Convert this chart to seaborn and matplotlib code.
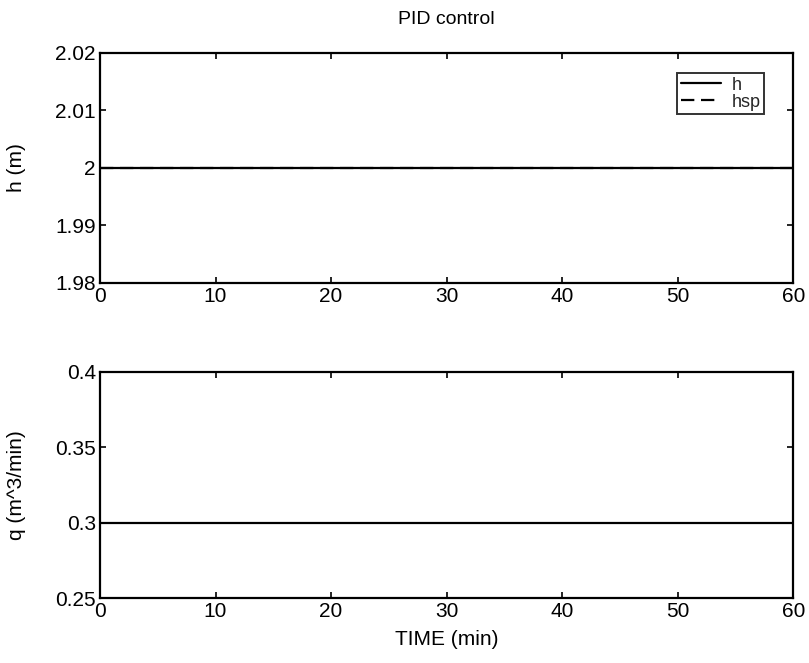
import matplotlib
matplotlib.use("Agg")
import matplotlib.pyplot as plt
import seaborn as sns
import pandas as pd

# Simulation record (time in minutes)
time_min = [0, 10, 20, 30, 40, 50, 60]
level_h = [2.0, 2.0, 2.0, 2.0, 2.0, 2.0, 2.0]
level_hsp = [2.0, 2.0, 2.0, 2.0, 2.0, 2.0, 2.0]
flow_q = [0.3, 0.3, 0.3, 0.3, 0.3, 0.3, 0.3]

x_ticks = [0, 10, 20, 30, 40, 50, 60]
h_ticks = [1.98, 1.99, 2.0, 2.01, 2.02]
h_labels = ["1.98", "1.99", "2", "2.01", "2.02"]
q_ticks = [0.25, 0.3, 0.35, 0.4]
q_labels = ["0.25", "0.3", "0.35", "0.4"]

sns.set_theme(style="white")
plt.rcParams["font.family"] = ["Liberation Sans", "DejaVu Sans"]
plt.rcParams["xtick.direction"] = "in"
plt.rcParams["ytick.direction"] = "in"

df = pd.DataFrame({"t": time_min, "h": level_h, "hsp": level_hsp, "q": flow_q})

fig = plt.figure(figsize=(8.09, 6.63), dpi=100)
ax1 = fig.add_axes([0.1236, 0.5732, 0.857, 0.347])
ax2 = fig.add_axes([0.1236, 0.0980, 0.857, 0.341])

sns.lineplot(data=df, x="t", y="h", ax=ax1, color="black", lw=1.6, label="h")
sns.lineplot(data=df, x="t", y="hsp", ax=ax1, color="black", lw=1.6,
             linestyle=(0, (6, 3)), label="hsp")
sns.lineplot(data=df, x="t", y="q", ax=ax2, color="black", lw=1.6, legend=False)

fs = 15
for ax, yt, yl, ylim in [(ax1, h_ticks, h_labels, (1.98, 2.02)),
                         (ax2, q_ticks, q_labels, (0.25, 0.4))]:
    ax.set_xlim(0, 60)
    ax.set_ylim(*ylim)
    ax.set_xticks(x_ticks)
    ax.set_xticklabels([str(v) for v in x_ticks], fontsize=fs, color="black")
    ax.set_yticks(yt)
    ax.set_yticklabels(yl, fontsize=fs, color="black")
    ax.tick_params(axis="both", which="both", direction="in", length=4,
                   width=1.2, color="black", top=True, right=True,
                   left=True, bottom=True)
    ax.tick_params(axis="x", pad=3)
    ax.tick_params(axis="y", pad=3)
    for s in ax.spines.values():
        s.set_visible(True)
        s.set_color("black")
        s.set_linewidth(1.6)

ax1.set_xlabel("")
ax1.set_ylabel("h (m)", fontsize=fs, color="black")
ax1.yaxis.set_label_coords(-0.107, 0.5)
ax1.set_title("PID control", fontsize=fs - 1, color="black", pad=21)
ax2.set_xlabel("TIME (min)", fontsize=fs, color="black", labelpad=6)
ax2.set_ylabel("q (m^3/min)", fontsize=fs, color="black")
ax2.yaxis.set_label_coords(-0.107, 0.5)

leg = ax1.legend(loc="upper right", bbox_to_anchor=(0.958, 0.913),
                 fontsize=13, frameon=True, fancybox=False, handlelength=2.2,
                 handletextpad=0.6, borderpad=0.2, labelspacing=0.0,
                 borderaxespad=0.0)
leg.get_frame().set_edgecolor("black")
leg.get_frame().set_linewidth(1.4)
for line in leg.get_lines():
    line.set_linewidth(1.6)

fig.savefig("out.png", dpi=100, facecolor="white")
